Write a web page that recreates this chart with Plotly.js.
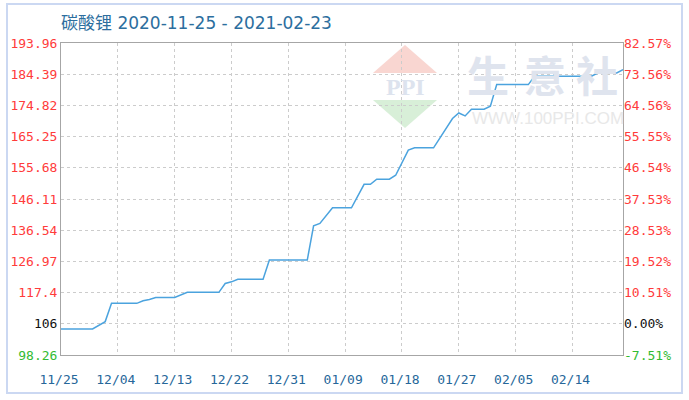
<!DOCTYPE html>
<html><head><meta charset="utf-8">
<script src="https://cdn.plot.ly/plotly-3.0.1.min.js"></script>
<style>html,body{margin:0;padding:0;background:#fff}#chart{width:689px;height:400px}</style>
</head><body><div id="chart"></div>
<script>
// ---- data ----
const dates = ['2020-11-25','2020-11-30','2020-12-02','2020-12-03','2020-12-07','2020-12-08','2020-12-09','2020-12-10','2020-12-13','2020-12-15','2020-12-20','2020-12-21','2020-12-22','2020-12-23','2020-12-27','2020-12-28','2021-01-03','2021-01-04','2021-01-05','2021-01-07','2021-01-10','2021-01-12','2021-01-13','2021-01-14','2021-01-16','2021-01-17','2021-01-19','2021-01-20','2021-01-23','2021-01-26','2021-01-27','2021-01-28','2021-01-29','2021-01-31','2021-02-01','2021-02-02','2021-02-07','2021-02-08','2021-02-17','2021-02-18','2021-02-21','2021-02-22'];
const prices = [106.24,106.24,108.5,114.1,114.1,114.9,115.3,115.9,115.9,117.47,117.47,120.2,120.7,121.5,121.5,127.37,127.37,137.9,138.6,143.4,143.4,150.6,150.6,152.2,152.2,153.4,161.1,161.8,161.8,170.8,172.5,171.6,173.65,173.65,174.6,181.2,181.2,183.76,183.76,184.77,184.77,185.8];
const yTickVals = [98.26,107.83,117.4,126.97,136.54,146.11,155.68,165.25,174.82,184.39,193.96];
const yTickLeft = ['98.26','106','117.4','126.97','136.54','146.11','155.68','165.25','174.82','184.39','193.96'];
const yTickRight = ['-7.51%','0.00%','10.51%','19.52%','28.53%','37.53%','46.54%','55.55%','64.56%','73.56%','82.57%'];
const xTickVals = ['2020-11-25','2020-12-04','2020-12-13','2020-12-22','2020-12-31','2021-01-09','2021-01-18','2021-01-27','2021-02-05','2021-02-14'];
const xTickText = ['11/25','12/04','12/13','12/22','12/31','01/09','01/18','01/27','02/05','02/14'];
const titleText = '碳酸锂 2020-11-25 - 2021-02-23';

// ---- styling helpers ----
const RED='#ff3b3b', GREEN='#33bb33', BLACK='#111111';
function tickColor(i){ return i===0 ? GREEN : (i===1 ? BLACK : RED); }
const leftText = yTickLeft.map((t,i)=>'<span style="color:'+tickColor(i)+'">'+t+'</span>');
const rightText = yTickRight.map((t,i)=>'<span style="color:'+tickColor(i)+'">'+t+'</span>');

// plot area in pixels (for decoration placement)
const PL=61, PR=623, PT=43, PB=355;
const px=x=>(x-PL)/(PR-PL);
const py=y=>(PB-y)/(PB-PT);

const mono = '"DejaVu Sans Mono", monospace';

const trace = {
  x: dates, y: prices, type:'scatter', mode:'lines',
  line:{color:'#4ba3de', width:1.5}, hoverinfo:'skip', showlegend:false
};
const trace2 = {x:[dates[0]], y:[prices[0]], yaxis:'y2', type:'scatter', mode:'lines', line:{width:0}, showlegend:false, hoverinfo:'skip'};

const yRange=[yTickVals[0], yTickVals[yTickVals.length-1]];

const layout = {
  width:689, height:400,
  margin:{l:PL, r:689-PR, t:PT, b:400-PB, pad:0},
  paper_bgcolor:'#ffffff', plot_bgcolor:'#ffffff',
  showlegend:false,
  title:{text:titleText, x:px(61), xref:'paper', xanchor:'left', y:1-23/400, yref:'container', yanchor:'middle',
    font:{family:'"DejaVu Sans","Noto Sans CJK SC",sans-serif', size:17, color:'#2c6e9e'}},
  xaxis:{type:'date', range:['2020-11-25','2021-02-22'], tickmode:'array', tickvals:xTickVals, ticktext:xTickText,
    showgrid:true, gridcolor:'#cccccc', griddash:'dot', gridwidth:1, zeroline:false,
    showline:true, mirror:true, linecolor:'#a6a6a6', linewidth:1, ticks:'',
    tickfont:{family:mono, size:13, color:'#26679a'}, ticklabelstandoff:12, ticklabelshift:-2, fixedrange:true},
  yaxis:{range:yRange, tickmode:'array', tickvals:yTickVals, ticktext:leftText,
    showgrid:true, gridcolor:'#cccccc', griddash:'dot', gridwidth:1, zeroline:false,
    showline:true, mirror:true, linecolor:'#a6a6a6', linewidth:1, ticks:'',
    tickfont:{family:mono, size:13, color:RED}, fixedrange:true},
  yaxis2:{range:yRange, overlaying:'y', side:'right', tickmode:'array', tickvals:yTickVals, ticktext:rightText,
    showgrid:false, zeroline:false, showline:false, ticks:'',
    tickfont:{family:mono, size:13, color:RED}, fixedrange:true},
  shapes:[
    {type:'rect', xref:'paper', yref:'paper', x0:px(7), x1:px(682), y0:py(393), y1:py(4),
      line:{color:'#cbd8f2', width:2}, fillcolor:'rgba(0,0,0,0)', layer:'below'},
    {type:'path', xref:'paper', yref:'paper', layer:'below',
      path:'M '+px(405)+' '+py(45)+' L '+px(437)+' '+py(73)+' L '+px(373)+' '+py(73)+' Z',
      fillcolor:'#f9d6d1', line:{width:0}},
    {type:'path', xref:'paper', yref:'paper', layer:'below',
      path:'M '+px(373)+' '+py(100)+' L '+px(437)+' '+py(100)+' L '+px(405)+' '+py(128)+' Z',
      fillcolor:'#d8efd8', line:{width:0}}
  ],
  annotations:[
    {text:'PPI', xref:'paper', yref:'paper', x:px(405), y:py(87), xanchor:'center', yanchor:'middle', showarrow:false,
      font:{family:'"Liberation Serif",serif', size:24, color:'#dde3ee', weight:700}},
    {text:'生', xref:'paper', yref:'paper', x:px(488), y:py(73), xanchor:'center', yanchor:'middle', showarrow:false,
      font:{family:'"Noto Sans CJK SC",sans-serif', size:42, color:'#dfe4ee', weight:700}},
    {text:'意', xref:'paper', yref:'paper', x:px(545), y:py(73), xanchor:'center', yanchor:'middle', showarrow:false,
      font:{family:'"Noto Sans CJK SC",sans-serif', size:42, color:'#dfe4ee', weight:700}},
    {text:'社', xref:'paper', yref:'paper', x:px(597), y:py(73), xanchor:'center', yanchor:'middle', showarrow:false,
      font:{family:'"Noto Sans CJK SC",sans-serif', size:42, color:'#dfe4ee', weight:700}},
    {text:'WWW.100PPI.COM', xref:'paper', yref:'paper', x:px(548), y:py(118), xanchor:'center', yanchor:'middle', showarrow:false,
      font:{family:'"Liberation Sans",sans-serif', size:17, color:'#e8e8e8'}}
  ]
};

Plotly.newPlot('chart', [trace, trace2], layout, {staticPlot:true, displayModeBar:false});
</script>
</body></html>
